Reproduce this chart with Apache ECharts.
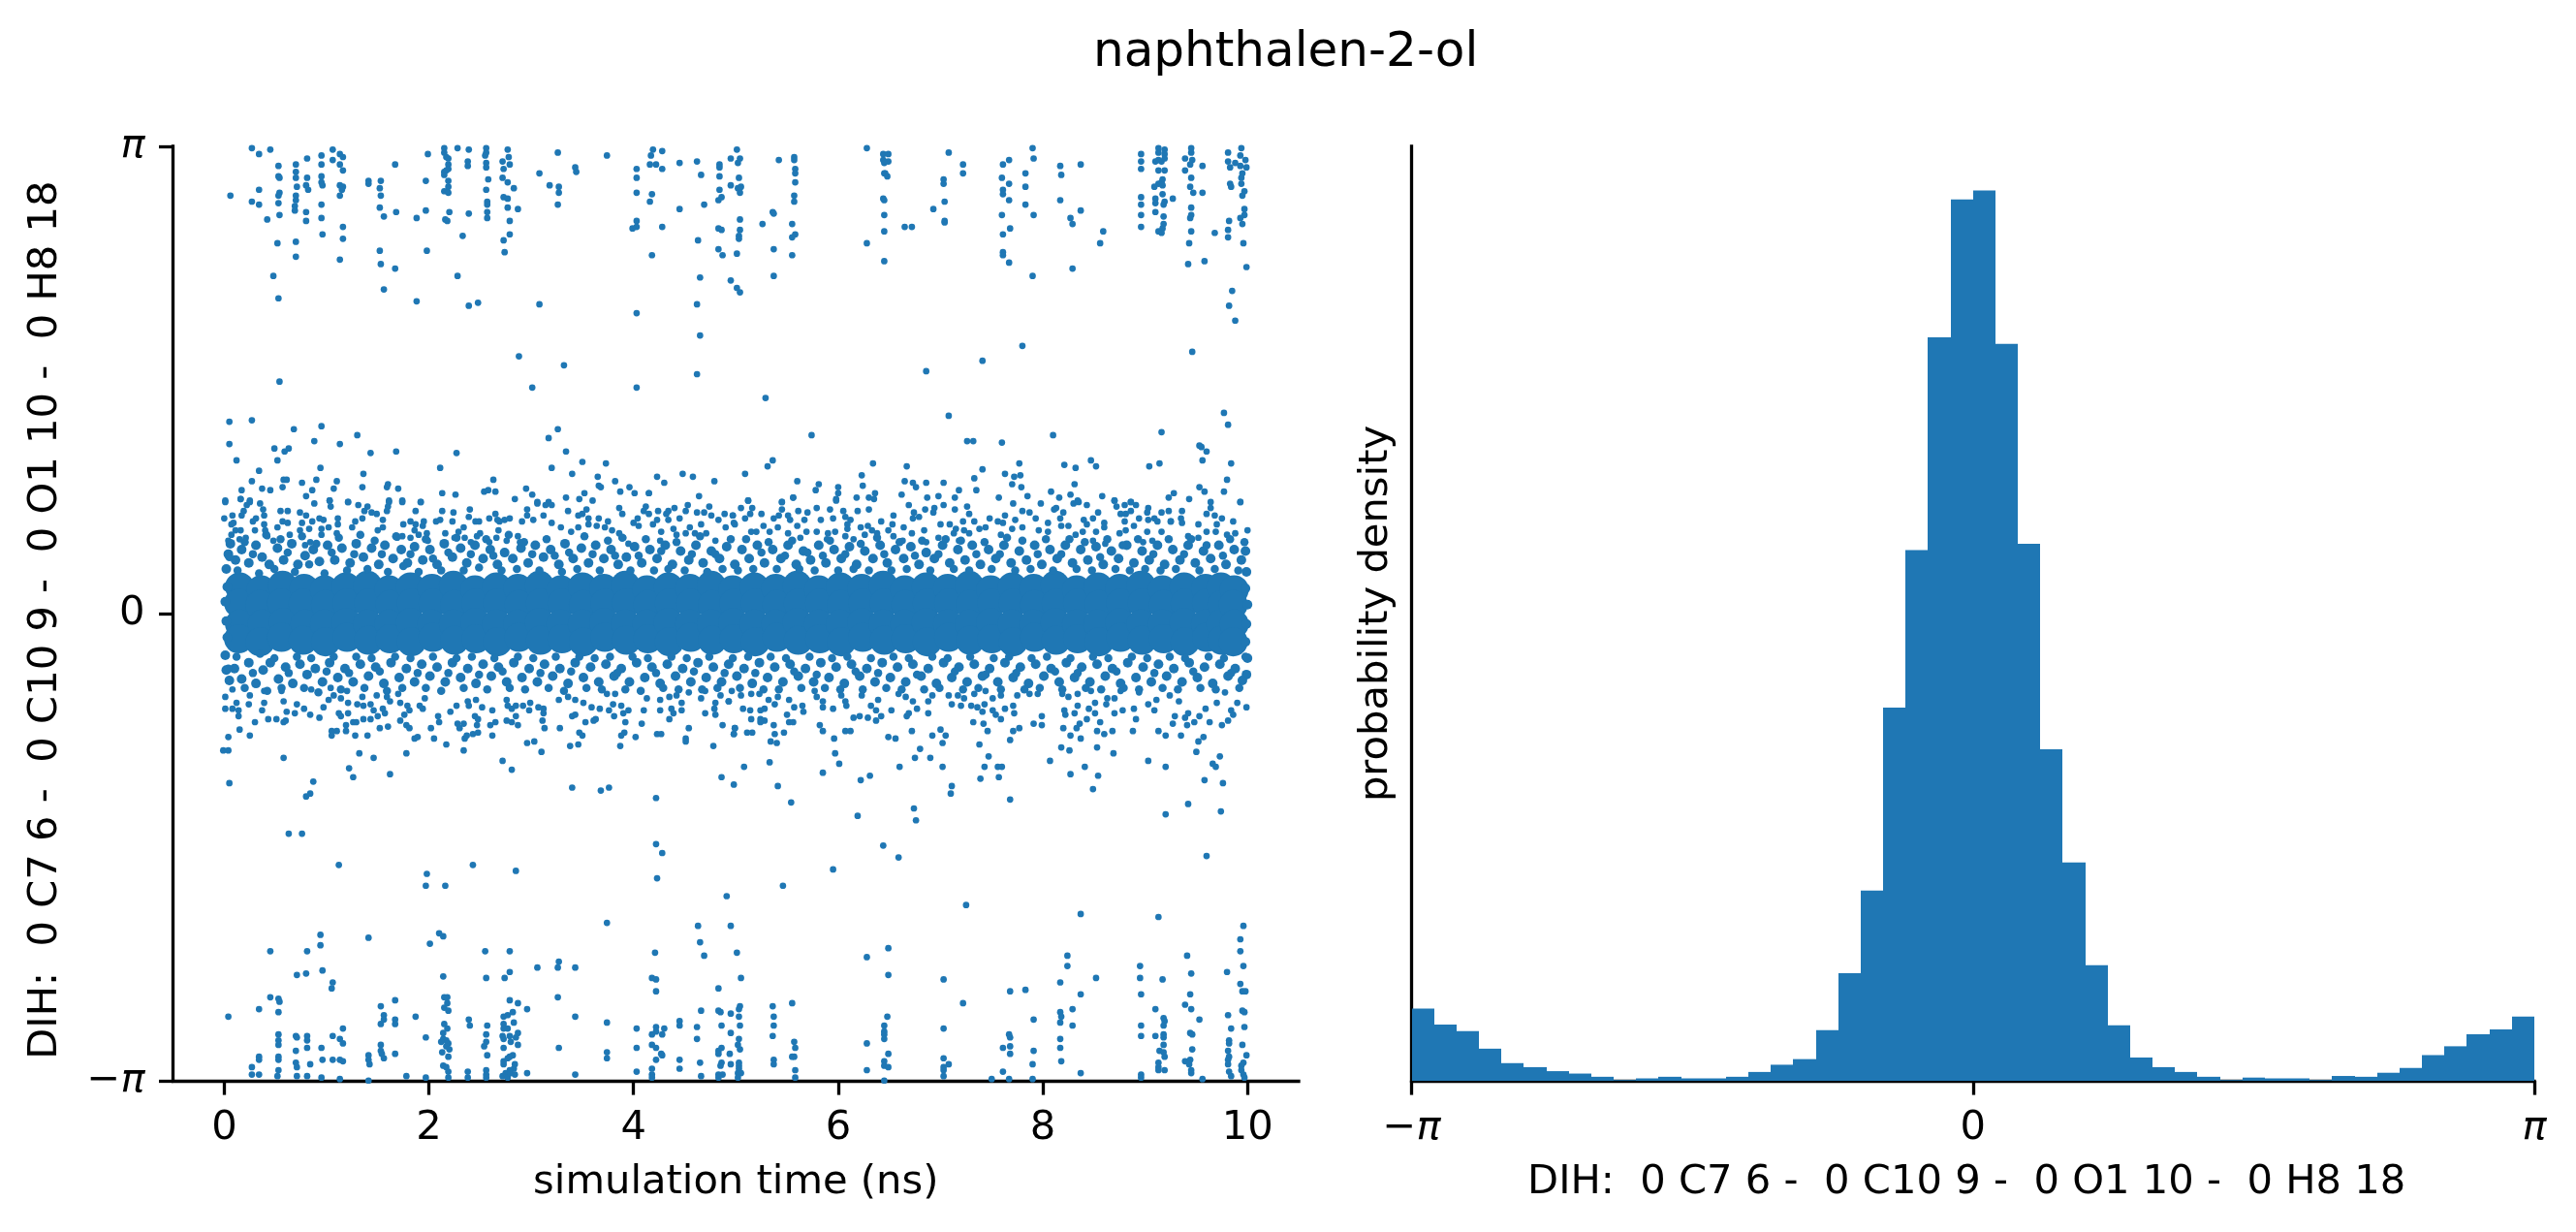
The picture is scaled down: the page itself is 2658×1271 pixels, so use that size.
<!DOCTYPE html>
<html><head><meta charset="utf-8"><style>html,body{margin:0;padding:0;background:#fff}#c{width:2658px;height:1271px}</style>
<script src="https://cdn.jsdelivr.net/npm/echarts@6/dist/echarts.min.js"></script></head>
<body><div id="c"></div><script>
const histDensity=[.090,.070,.062,.040,.022,.017,.012,.009,.005,.001,.003,.005,.003,.003,.005,.011,.020,.027,.063,.134,.237,.465,.661,.926,1.098,1.109,.918,.669,.413,.272,.144,.069,.029,.017,.011,.005,.001,.004,.003,.003,.001,.006,.005,.010,.016,.032,.043,.058,.064,.080];
const timeTicks=[0,2,4,6,8,10];
const piTicks=[-Math.PI,0,Math.PI];
const dihLabel='DIH:  0 C7 6 -  0 C10 9 -  0 O1 10 -  0 H8 18 ';
// [time ns, dihedral rad], sparse upper cluster, t<4.3
const topEarly=[[.06,2.81],[.27,3.13],[.34,3.09],[.45,3.12],[.27,2.77],[.34,2.85],[.34,2.75],[.42,2.65],[.53,3.01],[.53,2.94],[.54,2.93],[.54,2.83],[.53,2.81],[.53,2.76],[.54,2.68],[.52,2.49],[.48,2.27],[.53,2.12],[.54,1.56],[.70,3.02],[.70,2.97],[.70,2.93],[.71,2.87],[.70,2.81],[.70,2.78],[.69,2.74],[.69,2.71],[.70,2.50],[.70,2.40],[.81,3.06],[.81,2.93],[.80,2.88],[.82,2.85],[.80,2.70],[.80,2.64],[.95,3.08],[.95,3.02],[.95,2.94],[.95,2.90],[.96,2.88],[.95,2.75],[.95,2.66],[.96,2.55],[1.06,3.12],[1.06,3.05],[1.13,3.09],[1.16,3.07],[1.13,3.02],[1.16,2.98],[1.13,2.88],[1.16,2.87],[1.15,2.85],[1.13,2.81],[1.16,2.60],[1.16,2.52],[1.13,2.38],[1.41,2.91],[1.41,2.89],[1.53,2.91],[1.52,2.86],[1.53,2.81],[1.52,2.73],[1.56,2.67],[1.52,2.44],[1.53,2.35],[1.56,2.18],[1.67,3.02],[1.68,2.70],[1.67,2.32],[1.88,2.66],[1.88,2.10],[1.99,3.09],[1.97,2.91],[1.97,2.71],[1.98,2.44],[2.15,3.13],[2.15,3.10],[2.17,3.07],[2.19,3.06],[2.19,3.02],[2.19,2.99],[2.15,2.97],[2.17,2.98],[2.15,2.95],[2.19,2.91],[2.19,2.87],[2.15,2.84],[2.19,2.83],[2.20,2.70],[2.16,2.65],[2.18,2.64],[2.28,3.13],[2.28,2.27],[2.33,2.54],[2.39,3.12],[2.38,3.04],[2.38,3.01],[2.39,2.69],[2.39,2.07],[2.48,2.09],[2.56,3.13],[2.56,3.10],[2.55,3.08],[2.56,3.03],[2.56,3.00],[2.58,2.92],[2.56,2.85],[2.57,2.77],[2.57,2.75],[2.57,2.70],[2.57,2.66],[2.72,3.04],[2.73,2.99],[2.72,2.93],[2.73,2.80],[2.73,2.51],[2.74,2.43],[2.77,3.12],[2.78,3.07],[2.79,3.02],[2.77,2.90],[2.77,2.79],[2.77,2.73],[2.79,2.64],[2.79,2.55],[2.83,2.86],[2.87,2.72],[2.88,1.73],[3.01,1.52],[3.32,1.67],[3.08,2.96],[3.08,2.08],[3.18,2.88],[3.27,2.87],[3.27,2.83],[3.26,3.10],[3.26,2.75],[3.43,3.00],[3.44,2.97],[3.74,3.08],[4.03,2.99],[4.03,2.93],[4.03,2.83],[4.03,2.64],[3.99,2.59],[4.03,2.60],[4.03,2.02],[4.03,1.52],[4.17,3.08],[4.19,3.12],[4.16,3.02],[4.22,3.02],[4.28,3.11],[4.28,2.99],[4.18,2.82],[4.16,2.77],[4.28,2.60],[4.18,2.41]];
// sparse upper cluster, t>4.3
const topLate=[[4.45,3.03],[4.45,2.72],[4.62,3.04],[4.66,2.95],[4.69,2.75],[4.63,2.51],[4.65,2.26],[4.62,2.08],[4.65,1.87],[4.62,1.61],[4.84,3.02],[4.84,3.00],[4.84,2.94],[4.95,3.06],[4.95,2.88],[4.84,2.85],[4.86,2.80],[4.83,2.78],[4.83,2.59],[4.86,2.58],[4.83,2.45],[4.87,2.41],[4.95,2.24],[5.01,3.12],[5.04,3.06],[5.02,3.03],[5.03,2.93],[5.02,2.86],[5.05,2.87],[5.04,2.83],[5.04,2.65],[5.04,2.58],[5.03,2.54],[5.03,2.52],[5.01,2.42],[5.01,2.19],[5.04,2.16],[5.42,3.05],[5.26,2.62],[5.36,2.70],[5.37,2.69],[5.37,2.45],[5.37,2.27],[5.29,1.45],[5.57,3.07],[5.57,3.05],[5.58,2.99],[5.58,2.96],[5.58,2.90],[5.57,2.81],[5.57,2.77],[5.55,2.62],[5.58,2.55],[5.55,2.53],[5.55,2.41],[6.28,3.13],[6.28,2.49],[6.44,3.09],[6.49,3.09],[6.44,3.05],[6.49,3.04],[6.45,3.03],[6.45,2.96],[6.46,2.96],[6.48,2.94],[6.44,2.79],[6.45,2.78],[6.45,2.68],[6.45,2.57],[6.45,2.37],[6.65,2.60],[6.72,2.60],[7.08,3.10],[7.03,2.92],[7.03,2.89],[7.04,2.77],[6.93,2.72],[7.04,2.64],[7.04,2.63],[7.22,3.02],[7.22,2.96],[7.08,1.33],[6.86,1.63],[7.41,1.70],[7.80,1.80],[7.61,3.02],[7.67,3.05],[7.60,2.93],[7.67,2.89],[7.61,2.85],[7.61,2.82],[7.67,2.78],[7.60,2.68],[7.68,2.59],[7.61,2.55],[7.61,2.43],[7.61,2.41],[7.67,2.36],[7.90,3.13],[7.91,3.06],[7.83,2.96],[7.83,2.87],[7.83,2.75],[7.91,2.68],[7.90,2.27],[8.17,3.01],[8.18,2.95],[8.17,2.78],[8.27,2.66],[8.29,2.62],[8.29,2.32],[8.37,3.02],[8.37,2.71],[8.59,2.57],[8.56,2.49],[8.96,3.09],[8.96,3.04],[8.96,2.99],[8.96,2.80],[8.96,2.75],[8.96,2.68],[8.96,2.60],[9.13,3.13],[9.19,3.12],[9.13,3.10],[9.19,3.09],[9.10,3.04],[9.13,3.05],[9.16,3.04],[9.19,3.06],[9.13,2.98],[9.19,2.98],[9.17,2.92],[9.16,2.90],[9.13,2.89],[9.09,2.87],[9.17,2.88],[9.17,2.82],[9.10,2.79],[9.10,2.76],[9.19,2.77],[9.18,2.75],[9.10,2.70],[9.18,2.67],[9.18,2.62],[9.17,2.59],[9.13,2.57],[9.16,2.56],[9.16,1.22],[9.27,2.79],[9.45,3.13],[9.45,3.10],[9.39,3.06],[9.46,3.05],[9.44,3.02],[9.39,2.98],[9.56,3.01],[9.45,2.93],[9.44,2.87],[9.47,2.83],[9.56,2.83],[9.45,2.73],[9.45,2.68],[9.44,2.66],[9.45,2.57],[9.43,2.49],[9.58,2.37],[9.42,2.35],[9.46,1.76],[9.68,2.56],[9.81,3.10],[9.94,3.13],[9.93,3.08],[9.98,3.05],[9.81,3.04],[9.83,3.00],[9.88,3.03],[9.93,3.01],[9.99,3.00],[9.95,2.96],[9.94,2.93],[9.94,2.89],[9.83,2.89],[9.84,2.87],[9.97,2.84],[9.95,2.81],[9.97,2.72],[9.97,2.68],[9.93,2.66],[9.82,2.64],[9.95,2.62],[9.81,2.58],[9.81,2.53],[9.96,2.49],[9.99,2.33],[9.85,2.17],[9.82,2.07],[9.88,1.97]];
// between the upper cluster and the band, a about .75 to 1.35
const riseEarly=[[.05,1.29],[.27,1.30],[.05,1.14],[.68,1.24],[.95,1.26],[1.30,1.20],[.88,1.16],[1.13,1.14],[.49,1.11],[.63,1.11],[.59,1.09],[1.43,1.08],[1.68,1.09],[2.27,1.08],[.12,1.03],[.52,1.03],[.94,.98],[2.11,.98],[.34,.96],[1.36,.94],[3.26,1.24],[3.17,1.18],[3.34,1.09],[3.50,1.02],[3.73,1.01],[3.20,.98],[3.40,.94],[3.65,.92],[4.23,.92],[4.30,.88],[3.82,.89],[.27,.89],[.58,.90],[.61,.90],[.76,.88],[.90,.90],[1.10,.89],[.37,.84],[.17,.83],[.45,.83],[.57,.85],[.86,.83],[1.07,.84],[1.35,.85],[1.60,.87],[1.59,.85],[1.70,.84],[2.13,.81],[2.26,.80],[2.54,.82],[2.58,.83],[2.65,.82],[2.63,.90],[2.95,.84],[3.01,.80],[3.34,.78],[3.52,.81],[3.66,.86],[3.68,.85],[3.87,.82],[3.96,.85],[4.01,.81],[4.15,.81],[.01,.76],[.16,.77],[.25,.76],[.80,.79],[1.03,.76],[1.21,.75],[1.61,.76],[1.74,.76],[1.92,.75],[2.84,.77],[3.06,.75],[3.47,.77],[3.60,.76]];
const riseLate=[[5.74,1.20],[7.26,1.16],[7.32,1.16],[7.60,1.15],[8.10,1.20],[9.77,1.35],[9.81,1.27],[9.53,1.13],[9.55,1.12],[9.60,1.09],[8.47,1.03],[9.56,1.03],[5.36,1.03],[5.31,.99],[6.34,1.01],[6.67,.99],[7.77,1.01],[8.21,1.00],[8.32,.98],[8.52,.99],[9.04,.99],[9.14,1.01],[9.84,1.01],[7.41,.97],[4.48,.94],[4.58,.92],[4.79,.89],[5.09,.94],[5.60,.89],[5.81,.87],[5.78,.83],[6.00,.85],[6.23,.93],[6.24,.86],[6.65,.89],[6.73,.88],[6.76,.85],[6.86,.88],[7.03,.88],[7.33,.91],[7.63,.94],[7.72,.92],[7.78,.93],[7.70,.87],[7.79,.85],[8.31,.87],[9.80,.90],[9.53,.85],[9.58,.82],[9.77,.82],[9.28,.81],[7.18,.83],[7.35,.83],[8.08,.82],[6.36,.81],[6.00,.81],[6.62,.80],[4.64,.79],[4.15,.81],[7.85,.79],[8.27,.80],[8.58,.79],[9.23,.78],[9.43,.77],[8.70,.76],[5.56,.78],[5.12,.76],[6.18,.78],[6.30,.78],[5.98,.77],[7.57,.78],[8.16,.78],[6.87,.78],[6.98,.79],[7.14,.78],[5.45,.75],[8.34,.76],[8.86,.75],[9.93,.75]];
// sparse lower cluster
const bottomEarly=[[.63,-1.48],[.76,-1.48],[4.22,-1.55],[4.28,-1.61],[1.12,-1.69],[2.43,-1.69],[2.85,-1.73],[1.98,-1.75],[1.97,-1.83],[2.16,-1.83],[4.23,-1.78],[3.74,-2.08],[.94,-2.16],[.94,-2.23],[1.41,-2.18],[2.10,-2.15],[2.14,-2.17],[2.01,-2.22],[.45,-2.27],[.81,-2.27],[2.55,-2.27],[2.79,-2.27],[4.21,-2.28],[3.27,-2.34],[3.26,-2.38],[3.06,-2.38],[3.43,-2.38],[.96,-2.40],[.80,-2.42],[.71,-2.43],[2.79,-2.41],[2.14,-2.44],[2.74,-2.45],[2.56,-2.45],[4.18,-2.45],[4.22,-2.46],[1.06,-2.48],[1.05,-2.52],[4.22,-2.54],[3.26,-2.58],[.45,-2.58],[.53,-2.59],[.54,-2.61],[1.67,-2.60],[2.15,-2.58],[2.18,-2.58],[2.18,-2.62],[2.79,-2.60],[2.87,-2.62],[1.53,-2.64],[2.15,-2.65],[2.19,-2.67],[2.96,-2.66],[.34,-2.66],[.53,-2.68],[1.56,-2.70],[1.56,-2.73],[1.87,-2.71],[.04,-2.71],[3.43,-2.71],[2.73,-2.71],[2.77,-2.70],[2.82,-2.68],[2.39,-2.73],[2.40,-2.77],[1.67,-2.73],[1.67,-2.76],[1.53,-2.76],[2.83,-2.75],[3.74,-2.75],[2.15,-2.76],[2.57,-2.77],[2.73,-2.76],[2.77,-2.79],[2.73,-2.79],[1.16,-2.79],[2.18,-2.79],[4.03,-2.79],[4.22,-2.78],[4.22,-2.81],[4.30,-2.79],[4.28,-2.83],[4.18,-2.83],[2.14,-2.82],[2.56,-2.83],[2.87,-2.82],[.53,-2.83],[.70,-2.84],[.71,-2.85],[.81,-2.84],[.81,-2.87],[1.06,-2.84],[1.13,-2.86],[1.16,-2.89],[1.97,-2.85],[2.72,-2.84],[2.79,-2.84],[2.85,-2.85],[2.14,-2.86],[2.17,-2.87],[2.56,-2.88],[2.73,-2.86],[2.80,-2.88],[2.87,-2.90],[.53,-2.87],[.53,-2.90],[1.53,-2.90],[2.12,-2.88],[2.19,-2.89],[2.17,-2.91],[2.20,-2.93],[2.54,-2.91],[3.27,-2.92],[2.73,-2.92],[4.18,-2.90],[4.22,-2.92],[4.03,-2.92],[.81,-2.92],[.95,-2.92],[.70,-2.94],[1.53,-2.94],[1.54,-2.96],[1.56,-2.99],[1.67,-2.96],[2.13,-2.95],[3.74,-2.95],[4.27,-2.96],[2.82,-2.97],[2.79,-2.98],[2.19,-2.98],[2.57,-2.97],[4.28,-2.97],[.34,-2.98],[.34,-3.00],[.53,-2.98],[.53,-3.00],[1.41,-2.97],[1.41,-3.00],[1.42,-3.03],[.96,-3.00],[1.06,-3.00],[1.13,-3.00],[1.16,-3.01],[3.74,-2.99],[4.22,-3.00],[.70,-3.02],[.71,-3.05],[.84,-3.03],[2.73,-3.01],[2.73,-3.03],[2.77,-2.99],[2.84,-3.03],[2.14,-3.04],[2.17,-3.05],[.27,-3.05],[.53,-3.07],[.27,-3.10],[.34,-3.10],[2.83,-3.06],[2.79,-3.07],[2.19,-3.08],[2.38,-3.08],[2.56,-3.07],[4.18,-3.06],[4.03,-3.08],[.52,-3.11],[.71,-3.11],[.81,-3.11],[.95,-3.12],[1.13,-3.13],[1.41,-3.14],[1.78,-3.11],[1.97,-3.12],[2.19,-3.12],[2.38,-3.12],[2.56,-3.10],[2.56,-3.12],[2.72,-3.11],[2.75,-3.09],[2.77,-3.12],[2.80,-3.09],[2.84,-3.10],[2.96,-3.09],[3.43,-3.10],[4.18,-3.10],[4.18,-3.12]];
const bottomLate=[[6.44,-1.56],[6.59,-1.64],[9.60,-1.63],[5.95,-1.72],[5.46,-1.83],[4.91,-1.90],[7.25,-1.96],[8.37,-2.02],[9.13,-2.04],[4.63,-2.10],[4.95,-2.10],[9.96,-2.10],[4.65,-2.21],[9.93,-2.19],[6.49,-2.25],[9.93,-2.27],[5.01,-2.28],[4.69,-2.30],[6.28,-2.31],[8.24,-2.30],[9.41,-2.30],[8.24,-2.37],[8.95,-2.37],[9.96,-2.37],[9.80,-2.41],[9.45,-2.42],[6.49,-2.43],[7.03,-2.46],[5.05,-2.45],[8.52,-2.45],[8.95,-2.45],[9.17,-2.46],[8.17,-2.48],[9.93,-2.49],[4.83,-2.52],[7.83,-2.53],[7.68,-2.54],[9.95,-2.54],[9.98,-2.54],[8.96,-2.56],[8.37,-2.56],[9.44,-2.56],[5.55,-2.62],[7.22,-2.62],[5.04,-2.64],[9.39,-2.63],[5.36,-2.64],[5.03,-2.66],[9.10,-2.66],[9.45,-2.66],[4.66,-2.67],[4.83,-2.67],[4.85,-2.68],[8.29,-2.66],[9.95,-2.67],[9.97,-2.68],[8.17,-2.68],[4.95,-2.69],[5.03,-2.71],[5.37,-2.71],[6.48,-2.71],[8.18,-2.71],[9.81,-2.70],[9.18,-2.72],[9.53,-2.73],[4.45,-2.74],[7.91,-2.73],[9.19,-2.74],[8.17,-2.75],[4.45,-2.77],[4.62,-2.78],[4.86,-2.77],[5.04,-2.77],[5.37,-2.77],[6.45,-2.77],[8.29,-2.77],[8.96,-2.77],[9.18,-2.77],[7.03,-2.79],[9.84,-2.79],[9.97,-2.78],[6.45,-2.81],[4.95,-2.82],[9.44,-2.82],[7.67,-2.83],[6.45,-2.83],[9.46,-2.83],[9.18,-2.83],[5.36,-2.84],[8.96,-2.84],[9.10,-2.84],[7.68,-2.85],[9.18,-2.85],[4.62,-2.86],[5.03,-2.86],[6.45,-2.86],[8.17,-2.86],[9.82,-2.87],[9.82,-2.89],[5.57,-2.88],[6.28,-2.89],[5.02,-2.90],[9.95,-2.90],[9.18,-2.90],[5.58,-2.92],[7.68,-2.91],[7.61,-2.92],[8.17,-2.92],[9.46,-2.93],[4.86,-2.92],[4.83,-2.94],[5.04,-2.93],[7.91,-2.94],[9.81,-2.94],[9.14,-2.94],[9.18,-2.95],[4.83,-2.96],[4.94,-2.96],[6.49,-2.96],[7.68,-2.96],[9.19,-2.98],[9.99,-2.97],[9.82,-2.98],[5.57,-2.98],[5.55,-2.98],[7.03,-2.99],[4.45,-3.00],[5.37,-3.00],[6.45,-3.01],[8.18,-3.01],[9.39,-3.01],[9.44,-3.00],[9.81,-3.00],[9.96,-3.02],[4.86,-3.02],[5.03,-3.02],[4.65,-3.02],[9.13,-3.02],[9.81,-3.03],[5.37,-3.03],[4.95,-3.03],[7.08,-3.03],[7.90,-3.03],[9.43,-3.03],[9.94,-3.04],[4.85,-3.04],[5.03,-3.04],[6.45,-3.04],[6.49,-3.05],[7.03,-3.05],[9.13,-3.05],[4.45,-3.06],[5.03,-3.06],[7.03,-3.07],[5.58,-3.07],[6.28,-3.07],[9.13,-3.07],[9.19,-3.07],[9.45,-3.07],[9.94,-3.07],[7.61,-3.08],[5.02,-3.09],[5.05,-3.09],[9.82,-3.08],[8.37,-3.09],[4.83,-3.10],[4.87,-3.10],[9.45,-3.09],[9.84,-3.11],[4.66,-3.11],[9.96,-3.10],[8.96,-3.10],[7.03,-3.11],[8.96,-3.12],[9.97,-3.12],[4.83,-3.12],[5.02,-3.12],[5.58,-3.12],[7.50,-3.13],[7.67,-3.13],[7.90,-3.13],[6.45,-3.14],[9.56,-3.13]];
// upper fringe of the band
const upperFringeEarly=[[.16,.77],[.01,.75],[.25,.75],[.35,.74],[.22,.73],[.19,.69],[.17,.66],[.08,.66],[.00,.64],[.09,.61],[.07,.60],[.16,.56],[.11,.56],[.07,.53],[.30,.56],[.39,.60],[.31,.64],[.28,.62],[.38,.70],[.39,.66],[.40,.56],[.42,.52],[.88,.74],[1.03,.76],[1.04,.72],[1.21,.75],[1.31,.73],[1.40,.72],[1.37,.69],[1.44,.68],[1.49,.67],[1.61,.75],[1.60,.72],[1.59,.69],[1.74,.75],[1.92,.75],[1.87,.69],[3.06,.74],[3.17,.75],[3.14,.73],[3.20,.73],[3.36,.69],[3.54,.70],[3.46,.66],[3.50,.67],[3.56,.64],[3.66,.64],[3.75,.62],[3.56,.60],[3.64,.59],[3.72,.58],[3.86,.71],[3.89,.67],[4.12,.72],[4.10,.69],[4.15,.67],[4.24,.69],[4.53,.73],[4.74,.72],[4.40,.71],[4.34,.69],[4.51,.69],[4.32,.67],[4.45,.64],[4.62,.68],[4.69,.68],[4.76,.66],[4.89,.67],[4.97,.66],[4.83,.63],[4.66,.60],[4.04,.64],[4.00,.61],[4.05,.59],[4.23,.63],[4.19,.60],[4.34,.63],[2.40,.70],[2.13,.69],[2.24,.68],[2.39,.65],[2.65,.67],[2.59,.64],[2.455,.62],[2.49,.62],[2.23,.62],[2.11,.63],[2.07,.62],[1.95,.62],[1.94,.59],[1.82,.62],[1.87,.60],[1.75,.60],[1.55,.63],[1.55,.58],[1.50,.56],[1.35,.64],[1.28,.62],[1.25,.58],[1.11,.64],[1.11,.60],[1.10,.54],[2.96,.70],[2.96,.66],[3.12,.66],[3.02,.63],[2.91,.62],[2.79,.64],[2.74,.63],[2.69,.62],[2.67,.63],[3.20,.61],[3.29,.58],[3.46,.58],[3.39,.55],[.74,.68],[.80,.66],[.76,.61],[.74,.56],[.86,.62],[.83,.57],[.55,.69],[.62,.69],[.57,.62],[.62,.61],[.52,.58],[.93,.64],[.97,.63],[.95,.57],[1.02,.58],[.95,.53],[.64,.53],[.21,.51],[.15,.50],[.04,.49],[.48,.49],[.84,.48],[.79,.46],[1.69,.51],[1.74,.52],[2.16,.54],[2.29,.55],[2.34,.58],[2.25,.51],[2.35,.51],[2.50,.54],[2.47,.52],[2.41,.48],[2.68,.56],[2.59,.48],[2.66,.51],[2.76,.49],[2.87,.52],[2.89,.48],[1.86,.56],[1.98,.54],[1.99,.49],[1.90,.53],[1.82,.51],[3.79,.56],[3.86,.54],[3.90,.51],[3.95,.47],[4.27,.55],[4.39,.57],[4.55,.58],[4.51,.54],[4.42,.53],[4.26,.49],[4.71,.54],[4.60,.54],[4.80,.49],[4.90,.58],[4.98,.61]];
const upperFringeLate=[[5.12,.76],[5.05,.71],[5.16,.71],[5.14,.67],[4.97,.66],[5.09,.64],[4.99,.60],[5.25,.67],[5.37,.64],[5.42,.66],[5.45,.70],[5.45,.75],[5.51,.66],[5.53,.63],[5.56,.78],[5.79,.71],[5.61,.69],[5.70,.68],[5.67,.63],[5.83,.63],[5.92,.70],[5.95,.64],[5.98,.76],[6.05,.69],[6.07,.65],[6.12,.63],[6.09,.60],[6.09,.57],[6.19,.69],[6.30,.70],[6.35,.77],[6.54,.66],[6.42,.62],[6.53,.60],[6.69,.73],[6.74,.68],[6.79,.65],[6.73,.64],[6.85,.70],[6.94,.71],[6.93,.68],[7.03,.73],[7.14,.70],[7.00,.60],[7.09,.60],[7.26,.72],[7.28,.67],[7.22,.62],[7.33,.62],[7.48,.64],[7.56,.62],[7.61,.61],[7.63,.66],[7.71,.74],[7.80,.69],[7.87,.68],[7.98,.74],[7.93,.64],[8.11,.70],[8.13,.71],[8.20,.68],[8.17,.64],[8.30,.74],[8.35,.75],[8.43,.73],[8.40,.63],[8.43,.60],[8.49,.64],[8.54,.68],[8.60,.61],[8.72,.72],[8.70,.76],[8.80,.73],[8.86,.75],[8.91,.73],[8.76,.67],[8.81,.67],[8.86,.69],[8.80,.62],[8.94,.64],[9.02,.68],[9.03,.71],[9.09,.64],[9.16,.68],[9.23,.69],[9.03,.63],[9.12,.62],[9.25,.62],[9.36,.69],[9.35,.64],[9.36,.61],[9.60,.67],[9.64,.75],[9.64,.71],[9.68,.66],[9.75,.64],[9.70,.60],[9.86,.62],[9.93,.75],[9.52,.60],[10.0,.56],[9.88,.54],[9.80,.53],[5.15,.55],[5.20,.55],[5.27,.59],[5.33,.55],[5.41,.58],[5.51,.54],[5.60,.59],[5.63,.51],[5.69,.55],[5.79,.55],[5.90,.54],[5.97,.55],[6.07,.52],[5.89,.50],[6.15,.50],[6.22,.58],[6.29,.59],[6.33,.56],[6.38,.54],[6.26,.53],[6.49,.56],[6.54,.52],[6.64,.58],[6.72,.54],[6.84,.56],[6.86,.48],[6.63,.49],[6.98,.51],[7.15,.57],[7.23,.56],[7.13,.54],[7.28,.54],[7.38,.57],[7.44,.58],[7.18,.49],[7.59,.53],[7.73,.63],[7.80,.58],[7.70,.57],[7.96,.56],[8.05,.61],[8.05,.55],[8.25,.59],[8.18,.59],[8.32,.53],[8.39,.55],[8.60,.58],[8.52,.55],[8.75,.54],[8.81,.56],[8.89,.59],[9.02,.55],[9.16,.55],[9.25,.62],[9.42,.52],[9.60,.55],[9.52,.51],[9.69,.55],[8.98,.48],[9.07,.49],[8.61,.47],[8.49,.49]];
// lower fringe of the band
const lowerFringeEarly=[[.05,-1.14],[.80,-1.23],[.84,-1.21],[.87,-1.13],[.58,-.97],[-.01,-.92],[.04,-.92],[.04,-.83],[.15,-.78],[.25,-.82],[.30,-.73],[.01,-.64],[.01,-.56],[.08,-.51],[.12,-.60],[.08,-.64],[.14,-.65],[.14,-.69],[.24,-.61],[.25,-.55],[.37,-.65],[.39,-.60],[.43,-.71],[.51,-.71],[.58,-.73],[.60,-.72],[.61,-.66],[.69,-.67],[.71,-.61],[.78,-.64],[.84,-.68],[.93,-.70],[.97,-.63],[.58,-.59],[.39,-.52],[.56,-.52],[.85,-.51],[1.04,-.50],[1.02,-.58],[1.07,-.55],[1.14,-.57],[1.20,-.52],[1.21,-.60],[1.21,-.67],[1.12,-.67],[1.14,-.69],[1.05,-.79],[1.05,-.82],[1.10,-.79],[1.19,-.75],[1.19,-.79],[1.26,-.73],[1.29,-.73],[1.28,-.82],[1.40,-.82],[1.32,-.94],[1.46,-.97],[1.22,-1.04],[1.26,-1.10],[1.62,-1.08],[1.78,-.94],[1.36,-.71],[1.43,-.71],[1.52,-.77],[1.60,-.76],[1.50,-.69],[1.57,-.67],[1.55,-.64],[1.46,-.65],[1.30,-.61],[1.36,-.62],[1.43,-.61],[1.35,-.56],[1.49,-.55],[1.59,-.56],[1.62,-.59],[1.72,-.60],[1.70,-.54],[1.72,-.72],[1.78,-.75],[1.81,-.77],[1.76,-.68],[1.79,-.62],[1.81,-.65],[1.86,-.84],[1.89,-.83],[2.02,-.77],[2.05,-.84],[2.17,-.88],[2.34,-.92],[2.09,-.69],[2.10,-.73],[1.94,-.64],[1.91,-.62],[1.96,-.57],[2.21,-.66],[2.27,-.62],[2.39,-.62],[2.46,-.58],[2.52,-.63],[2.38,-.59],[2.28,-.74],[2.34,-.74],[2.30,-.77],[2.35,-.84],[2.37,-.82],[2.43,-.81],[2.48,-.80],[2.45,-.69],[2.48,-.71],[2.47,-.75],[2.62,-.65],[2.60,-.75],[2.65,-.73],[2.62,-.82],[2.72,-.99],[2.81,-1.05],[2.76,-.72],[2.81,-.73],[2.87,-.75],[2.85,-.69],[2.81,-.64],[2.85,-.62],[2.76,-.58],[2.77,-.62],[2.92,-.62],[2.99,-.60],[2.98,-.65],[3.07,-.63],[3.12,-.64],[3.12,-.67],[3.11,-.72],[3.13,-.77],[2.96,-.87],[3.03,-.86],[3.10,-.93],[3.28,-.77],[3.38,-.89],[3.46,-.88],[3.40,-1.17],[3.68,-1.19],[3.76,-1.17],[4.22,-1.24],[4.86,-1.10],[4.98,-1.15],[4.78,-.89],[3.87,-.89],[4.02,-.83],[3.88,-.82],[3.91,-.80],[4.23,-.81],[4.27,-.81],[4.51,-.84],[4.51,-.86],[4.54,-.77],[4.87,-.75],[4.98,-.81],[4.99,-.77],[3.47,-.80],[3.50,-.82],[3.40,-.69],[3.43,-.68],[3.53,-.73],[3.61,-.72],[3.63,-.71],[3.59,-.63],[3.67,-.64],[3.76,-.65],[3.81,-.69],[3.80,-.61],[3.88,-.62],[3.92,-.73],[3.90,-.67],[3.95,-.65],[4.08,-.74],[4.10,-.65],[4.26,-.65],[4.35,-.71],[4.39,-.67],[4.37,-.64],[4.47,-.65],[4.47,-.60],[4.66,-.57],[4.70,-.67],[4.80,-.68],[4.79,-.64],[4.80,-.60],[4.93,-.59],[4.85,-.55],[3.27,-.58],[3.36,-.56],[3.43,-.58],[3.51,-.60],[3.74,-.54],[3.82,-.54],[4.13,-.57],[4.26,-.58],[4.35,-.56],[4.42,-.55],[4.54,-.53],[4.70,-.52],[4.96,-.52]];
const lowerFringeLate=[[5.08,-1.03],[5.33,-1.00],[5.41,-1.16],[5.54,-1.27],[5.85,-1.07],[5.97,-.94],[6.01,-1.01],[6.19,-1.36],[6.22,-1.12],[6.31,-1.09],[6.60,-1.03],[6.74,-1.31],[6.76,-1.39],[6.75,-.97],[6.80,-.91],[6.90,-.97],[7.02,-1.03],[7.02,-.87],[7.05,-.82],[6.92,-.82],[7.00,-.78],[6.72,-.79],[6.49,-.83],[6.56,-.84],[7.11,-1.16],[7.10,-1.21],[7.39,-1.11],[7.43,-1.03],[7.47,-.96],[7.38,-.88],[7.56,-1.03],[7.60,-1.03],[7.57,-1.10],[7.68,-1.25],[7.68,-.85],[8.07,-.99],[8.18,-.90],[8.26,-.92],[8.27,-1.08],[8.41,-1.03],[8.54,-1.09],[8.49,-1.18],[8.53,-.90],[8.69,-.94],[8.37,-.84],[8.27,-.82],[8.20,-.77],[8.53,-.79],[8.60,-.81],[8.68,-.79],[8.88,-.79],[9.03,-.99],[9.20,-1.03],[9.20,-1.35],[9.42,-1.28],[9.74,-1.33],[9.58,-1.12],[9.76,-1.14],[9.66,-1.01],[9.69,-1.03],[9.73,-.96],[9.50,-.93],[9.52,-.86],[9.57,-.83],[9.35,-.82],[9.20,-.82],[9.13,-.79],[9.41,-.75],[9.27,-.74],[9.48,-.73],[9.53,-.69],[9.63,-.73],[9.75,-.75],[9.81,-.72],[9.86,-.68],[9.99,-.63],[9.84,-.65],[9.70,-.60],[9.90,-.60],[9.78,-.53],[7.99,-.69],[7.91,-.74],[7.99,-.75],[7.77,-.77],[7.71,-.79],[7.46,-.79],[7.42,-.74],[7.32,-.73],[7.72,-.67],[7.71,-.62],[7.63,-.64],[7.59,-.71],[7.54,-.68],[7.51,-.65],[7.41,-.66],[7.36,-.63],[7.30,-.62],[7.43,-.61],[7.11,-.61],[7.20,-.62],[7.23,-.57],[6.88,-.67],[6.52,-.65],[6.67,-.69],[6.69,-.67],[6.77,-.64],[6.42,-.69],[6.37,-.72],[6.29,-.70],[6.21,-.69],[6.15,-.70],[6.37,-.65],[6.32,-.62],[6.07,-.79],[6.12,-.79],[5.96,-.84],[5.85,-.79],[5.82,-.75],[5.95,-.64],[5.85,-.63],[5.85,-.59],[5.66,-.66],[5.65,-.62],[5.57,-.63],[5.52,-.58],[5.41,-.56],[5.50,-.68],[5.52,-.73],[5.56,-.73],[5.47,-.80],[5.40,-.87],[5.34,-.86],[5.38,-.81],[5.37,-.75],[5.28,-.72],[5.24,-.71],[5.24,-.73],[5.24,-.65],[5.28,-.64],[5.15,-.71],[5.14,-.65],[5.07,-.64],[5.11,-.80],[5.16,-.80],[4.99,-.77],[4.98,-.81],[4.93,-.59],[5.38,-.61],[5.32,-.58],[5.15,-.54],[5.05,-.55],[5.23,-.54],[8.21,-.65],[8.22,-.68],[8.31,-.67],[8.34,-.62],[8.25,-.56],[8.43,-.71],[8.36,-.74],[8.33,-.77],[8.45,-.64],[8.51,-.60],[8.51,-.67],[8.56,-.73],[8.62,-.61],[8.70,-.67],[8.78,-.65],[8.89,-.64],[8.91,-.71],[9.03,-.61],[9.11,-.58],[9.09,-.65],[9.29,-.69],[9.39,-.70],[9.42,-.67],[9.59,-.64],[9.33,-.59],[9.24,-.55],[8.94,-.53],[5.77,-.52],[5.79,-.56],[6.03,-.55],[6.08,-.62],[6.07,-.59],[6.23,-.55],[6.39,-.58],[6.59,-.54],[6.66,-.56],[6.73,-.59],[6.88,-.59],[6.92,-.55],[7.08,-.55],[7.17,-.55],[7.33,-.54],[7.44,-.52],[7.51,-.57],[7.59,-.55],[7.75,-.55],[7.87,-.54],[7.95,-.54],[8.19,-.54],[8.34,-.54],[8.47,-.52],[8.63,-.57],[8.70,-.57],[8.76,-.52]];
// NOTE: the band's shoulder and core hold thousands of overlapping dots that cannot be read one by one.
// The three lists below are hand-typed coverage estimates, partly drawn with larger markers, not individual samples.
const shoulderEstimate=[[.02,.30],[.03,.18],[.01,.08],[.02,-.05],[.03,-.16],[.01,-.28],[.02,-.38],[.04,.40],[.06,.47],[.05,-.45],[.11,.36],[.17,.43],[.24,.34],[.31,.46],[.37,.38],[.44,.33],[.52,.44],[.58,.36],[.66,.47],[.72,.33],[.79,.39],[.87,.43],[.93,.35],[1.01,.46],[1.08,.36],[1.15,.44],[1.23,.34],[1.29,.47],[1.36,.38],[1.44,.44],[1.51,.33],[1.57,.46],[1.65,.37],[1.73,.43],[1.79,.34],[1.86,.45],[1.94,.36],[2.01,.43],[2.08,.33],[2.15,.47],[2.23,.38],[2.31,.44],[2.37,.34],[2.45,.46],[2.53,.37],[2.60,.43],[2.67,.33],[2.74,.41],[2.82,.37],[2.90,.44],[2.97,.34],[3.04,.46],[3.12,.38],[3.19,.43],[3.27,.33],[3.33,.47],[3.41,.37],[3.49,.44],[3.56,.34],[3.63,.46],[3.71,.37],[3.78,.43],[3.85,.33],[3.93,.38],[4.01,.45],[4.08,.34],[4.16,.43],[4.23,.37],[4.31,.46],[4.38,.33],[4.46,.42],[4.54,.36],[4.61,.46],[4.68,.34],[4.76,.42],[4.84,.37],[4.91,.45],[4.99,.33],[5.06,.43],[5.13,.37],[5.21,.46],[5.28,.34],[5.36,.43],[5.44,.37],[5.51,.46],[5.59,.33],[5.66,.42],[5.73,.36],[5.81,.46],[5.88,.34],[5.96,.43],[6.03,.37],[6.11,.45],[6.18,.33],[6.26,.42],[6.34,.37],[6.41,.46],[6.48,.34],[6.56,.43],[6.64,.37],[6.71,.45],[6.79,.33],[6.86,.41],[6.94,.37],[7.02,.46],[7.09,.34],[7.17,.43],[7.24,.36],[7.31,.46],[7.39,.33],[7.47,.43],[7.54,.37],[7.62,.46],[7.69,.34],[7.77,.42],[7.84,.36],[7.92,.46],[7.99,.33],[8.07,.43],[8.14,.37],[8.22,.46],[8.29,.34],[8.37,.43],[8.44,.36],[8.52,.45],[8.59,.33],[8.67,.42],[8.74,.37],[8.82,.46],[8.89,.34],[8.97,.42],[9.04,.36],[9.12,.46],[9.19,.33],[9.27,.43],[9.34,.36],[9.42,.46],[9.49,.34],[9.57,.42],[9.64,.37],[9.72,.46],[9.79,.33],[9.87,.43],[9.94,.36],[9.99,.28],[9.98,.17],[10,.06],[9.99,-.07],[9.98,-.19],[10,-.3],[9.98,.42],[9.99,-.41],[.10,-.37],[.17,-.44],[.24,-.33],[.31,-.47],[.38,-.38],[.45,-.33],[.53,-.44],[.60,-.36],[.67,-.47],[.74,-.34],[.81,-.41],[.89,-.37],[.96,-.46],[1.03,-.33],[1.11,-.43],[1.18,-.37],[1.26,-.46],[1.33,-.34],[1.41,-.42],[1.48,-.36],[1.56,-.47],[1.63,-.33],[1.71,-.43],[1.78,-.37],[1.86,-.46],[1.93,-.34],[2.01,-.42],[2.08,-.36],[2.16,-.46],[2.23,-.33],[2.31,-.43],[2.38,-.37],[2.46,-.47],[2.53,-.34],[2.61,-.42],[2.68,-.36],[2.76,-.46],[2.83,-.33],[2.91,-.43],[2.98,-.37],[3.06,-.46],[3.13,-.34],[3.21,-.42],[3.28,-.37],[3.36,-.47],[3.43,-.33],[3.51,-.43],[3.58,-.36],[3.66,-.46],[3.73,-.34],[3.81,-.42],[3.88,-.37],[3.96,-.46],[4.03,-.33],[4.11,-.43],[4.18,-.36],[4.26,-.47],[4.33,-.34],[4.41,-.42],[4.48,-.37],[4.56,-.46],[4.63,-.33],[4.71,-.43],[4.78,-.36],[4.86,-.46],[4.93,-.34],[5.01,-.42],[5.08,-.37],[5.16,-.47],[5.23,-.33],[5.31,-.43],[5.38,-.36],[5.46,-.46],[5.53,-.34],[5.61,-.42],[5.68,-.37],[5.76,-.46],[5.83,-.33],[5.91,-.43],[5.98,-.36],[6.06,-.47],[6.13,-.34],[6.21,-.42],[6.28,-.37],[6.36,-.46],[6.43,-.33],[6.51,-.43],[6.58,-.36],[6.66,-.46],[6.73,-.34],[6.81,-.42],[6.88,-.37],[6.96,-.47],[7.03,-.33],[7.11,-.43],[7.18,-.36],[7.26,-.46],[7.33,-.34],[7.41,-.42],[7.48,-.37],[7.56,-.46],[7.63,-.33],[7.71,-.43],[7.78,-.36],[7.86,-.47],[7.93,-.34],[8.01,-.42],[8.08,-.37],[8.16,-.46],[8.23,-.33],[8.31,-.43],[8.38,-.36],[8.46,-.46],[8.53,-.34],[8.61,-.42],[8.68,-.37],[8.76,-.47],[8.83,-.33],[8.91,-.43],[8.98,-.36],[9.06,-.46],[9.13,-.34],[9.21,-.42],[9.28,-.37],[9.36,-.46],[9.43,-.33],[9.51,-.43],[9.58,-.36],[9.66,-.47],[9.73,-.34],[9.81,-.42],[9.88,-.37],[9.95,-.45]];
const shoulderFillEstimate=[[.05,.38],[.13,.29],[.20,.48],[.28,.40],[.34,.27],[.41,.53],[.49,.30],[.55,.50],[.62,.41],[.69,.28],[.76,.52],[.83,.33],[.90,.47],[.98,.27],[1.05,.41],[1.12,.51],[1.20,.29],[1.27,.40],[1.33,.53],[1.40,.30],[1.47,.49],[1.54,.40],[1.60,.28],[1.68,.52],[1.75,.32],[1.82,.40],[1.90,.28],[1.97,.50],[2.04,.37],[2.12,.29],[2.19,.41],[2.27,.51],[2.34,.29],[2.41,.40],[2.49,.31],[2.56,.50],[2.63,.39],[2.71,.29],[2.78,.53],[2.86,.30],[2.93,.48],[3.01,.40],[3.08,.29],[3.15,.50],[3.23,.39],[3.30,.28],[3.37,.41],[3.45,.30],[3.52,.52],[3.60,.40],[3.67,.29],[3.75,.49],[3.82,.39],[3.89,.51],[3.97,.29],[4.05,.39],[4.12,.50],[4.20,.29],[4.27,.42],[4.34,.30],[4.42,.48],[4.50,.29],[4.57,.40],[4.65,.52],[4.72,.28],[4.80,.40],[4.87,.30],[4.95,.50],[5.02,.29],[5.10,.50],[5.17,.30],[5.25,.41],[5.32,.48],[5.40,.30],[5.48,.39],[5.55,.49],[5.62,.30],[5.70,.41],[5.77,.29],[5.85,.39],[5.92,.49],[6.00,.29],[6.07,.40],[6.15,.30],[6.22,.47],[6.30,.29],[6.38,.51],[6.45,.40],[6.52,.29],[6.60,.48],[6.67,.30],[6.75,.39],[6.82,.49],[6.90,.29],[6.98,.40],[7.05,.50],[7.13,.30],[7.20,.49],[7.28,.29],[7.35,.40],[7.43,.48],[7.50,.30],[7.58,.40],[7.65,.51],[7.73,.29],[7.80,.49],[7.88,.30],[7.95,.40],[8.03,.50],[8.10,.29],[8.18,.40],[8.26,.50],[8.33,.30],[8.41,.48],[8.48,.29],[8.56,.38],[8.63,.50],[8.71,.30],[8.78,.46],[8.85,.29],[8.93,.50],[9.00,.30],[9.08,.40],[9.15,.29],[9.23,.50],[9.30,.30],[9.38,.40],[9.45,.50],[9.53,.29],[9.60,.46],[9.68,.30],[9.76,.39],[9.83,.50],[9.91,.29],[9.97,.48],[.04,-.37],[.12,-.29],[.20,-.50],[.28,-.40],[.35,-.27],[.42,-.52],[.49,-.30],[.56,-.50],[.63,-.40],[.71,-.29],[.78,-.50],[.85,-.30],[.92,-.53],[1.00,-.39],[1.07,-.29],[1.14,-.51],[1.22,-.40],[1.29,-.29],[1.37,-.50],[1.44,-.30],[1.52,-.39],[1.59,-.52],[1.67,-.29],[1.74,-.50],[1.82,-.30],[1.89,-.40],[1.97,-.50],[2.04,-.29],[2.12,-.52],[2.19,-.40],[2.27,-.30],[2.34,-.50],[2.42,-.29],[2.49,-.41],[2.57,-.51],[2.64,-.30],[2.72,-.39],[2.79,-.50],[2.87,-.29],[2.94,-.51],[3.02,-.30],[3.09,-.40],[3.17,-.50],[3.24,-.29],[3.32,-.52],[3.39,-.39],[3.47,-.29],[3.54,-.50],[3.62,-.30],[3.69,-.51],[3.77,-.29],[3.84,-.40],[3.92,-.51],[3.99,-.29],[4.07,-.52],[4.14,-.30],[4.22,-.40],[4.29,-.50],[4.37,-.29],[4.44,-.51],[4.52,-.30],[4.59,-.39],[4.67,-.51],[4.74,-.29],[4.82,-.50],[4.89,-.40],[4.97,-.30],[5.04,-.50],[5.12,-.29],[5.19,-.40],[5.27,-.51],[5.34,-.29],[5.42,-.51],[5.49,-.30],[5.57,-.39],[5.64,-.50],[5.72,-.29],[5.79,-.41],[5.87,-.50],[5.94,-.30],[6.02,-.51],[6.09,-.29],[6.17,-.39],[6.24,-.51],[6.32,-.30],[6.39,-.40],[6.47,-.50],[6.54,-.29],[6.62,-.51],[6.69,-.30],[6.77,-.41],[6.84,-.51],[6.92,-.29],[6.99,-.50],[7.07,-.30],[7.14,-.39],[7.22,-.51],[7.29,-.29],[7.37,-.50],[7.44,-.41],[7.52,-.30],[7.59,-.51],[7.67,-.29],[7.74,-.40],[7.82,-.51],[7.89,-.30],[7.97,-.50],[8.04,-.29],[8.12,-.39],[8.19,-.51],[8.27,-.30],[8.34,-.40],[8.42,-.50],[8.49,-.29],[8.57,-.51],[8.64,-.30],[8.72,-.39],[8.79,-.50],[8.87,-.29],[8.94,-.51],[9.02,-.30],[9.09,-.40],[9.17,-.50],[9.24,-.29],[9.32,-.51],[9.39,-.30],[9.47,-.39],[9.54,-.50],[9.62,-.29],[9.69,-.51],[9.77,-.30],[9.84,-.40],[9.92,-.50],[9.98,-.29]];
const coreEstimate=[[.15,.18],[.14,.07],[.15,-.07],[.14,-.17],[.36,.16],[.35,.06],[.37,-.07],[.35,-.19],[.57,.19],[.56,.07],[.58,-.06],[.56,-.16],[.78,.17],[.77,.07],[.79,-.07],[.77,-.18],[.98,.16],[.99,.06],[.98,-.07],[.99,-.19],[1.19,.18],[1.20,.07],[1.19,-.06],[1.20,-.16],[1.40,.19],[1.41,.07],[1.40,-.07],[1.41,-.18],[1.61,.16],[1.62,.06],[1.61,-.07],[1.62,-.17],[1.82,.18],[1.83,.07],[1.82,-.06],[1.83,-.19],[2.03,.17],[2.04,.07],[2.03,-.07],[2.04,-.16],[2.24,.19],[2.25,.06],[2.24,-.07],[2.25,-.18],[2.45,.16],[2.46,.07],[2.45,-.06],[2.46,-.17],[2.66,.18],[2.67,.07],[2.66,-.07],[2.67,-.19],[2.87,.17],[2.88,.06],[2.87,-.07],[2.88,-.16],[3.08,.19],[3.09,.07],[3.08,-.06],[3.09,-.18],[3.29,.16],[3.30,.07],[3.29,-.07],[3.30,-.17],[3.50,.18],[3.51,.06],[3.50,-.07],[3.51,-.19],[3.71,.17],[3.72,.07],[3.71,-.06],[3.72,-.16],[3.92,.19],[3.93,.07],[3.92,-.07],[3.93,-.18],[4.13,.16],[4.14,.06],[4.13,-.07],[4.14,-.17],[4.34,.18],[4.35,.07],[4.34,-.06],[4.35,-.19],[4.55,.17],[4.56,.07],[4.55,-.07],[4.56,-.16],[4.76,.19],[4.77,.06],[4.76,-.07],[4.77,-.18],[4.97,.16],[4.98,.07],[4.97,-.06],[4.98,-.17],[5.18,.18],[5.19,.07],[5.18,-.07],[5.19,-.19],[5.39,.17],[5.40,.06],[5.39,-.07],[5.40,-.16],[5.60,.19],[5.61,.07],[5.60,-.06],[5.61,-.18],[5.81,.16],[5.82,.07],[5.81,-.07],[5.82,-.17],[6.02,.18],[6.03,.06],[6.02,-.07],[6.03,-.19],[6.23,.17],[6.24,.07],[6.23,-.06],[6.24,-.16],[6.44,.19],[6.45,.07],[6.44,-.07],[6.45,-.18],[6.65,.16],[6.66,.06],[6.65,-.07],[6.66,-.17],[6.86,.18],[6.87,.07],[6.86,-.06],[6.87,-.19],[7.07,.17],[7.08,.07],[7.07,-.07],[7.08,-.16],[7.28,.19],[7.29,.06],[7.28,-.07],[7.29,-.18],[7.49,.16],[7.50,.07],[7.49,-.06],[7.50,-.17],[7.70,.18],[7.71,.07],[7.70,-.07],[7.71,-.19],[7.91,.17],[7.92,.06],[7.91,-.07],[7.92,-.16],[8.12,.19],[8.13,.07],[8.12,-.06],[8.13,-.18],[8.33,.16],[8.34,.07],[8.33,-.07],[8.34,-.17],[8.54,.18],[8.55,.06],[8.54,-.07],[8.55,-.19],[8.75,.17],[8.76,.07],[8.75,-.06],[8.76,-.16],[8.96,.19],[8.97,.07],[8.96,-.07],[8.97,-.18],[9.17,.16],[9.18,.06],[9.17,-.07],[9.18,-.17],[9.38,.18],[9.39,.07],[9.38,-.06],[9.39,-.19],[9.59,.17],[9.60,.07],[9.59,-.07],[9.60,-.16],[9.74,.18],[9.75,.06],[9.74,-.07],[9.75,-.18],[9.87,.16],[9.86,.06],[9.87,-.07],[9.86,-.19]];
const FONT='DejaVu Sans',BLUE='#1f77b4',LW=3.3,TS=41.67,DOT=6.7;
const rich={i:{fontStyle:'italic',fontFamily:FONT,fontSize:TS,color:'#000'},n:{fontFamily:FONT,fontSize:TS,color:'#000'}};
const piFmt=v=>v<-1?'{n|−}{i|π}':v>1?'{i|π}':'{n|0}';
const line={show:true,onZero:false,lineStyle:{color:'#000',width:LW,cap:'square'}};
const tick=vals=>({show:true,length:14.6,lineStyle:{color:'#000',width:LW},customValues:vals});
const lab=(vals,fmt,m)=>({show:true,fontFamily:FONT,fontSize:TS,color:'#000',margin:m,customValues:vals,formatter:fmt,rich,hideOverlap:false,showMinLabel:true,showMaxLabel:true});
const nameStyle={fontFamily:FONT,fontSize:TS,color:'#000'};
const dots=(data,size)=>({type:'scatter',xAxisIndex:0,yAxisIndex:0,symbolSize:size,silent:true,itemStyle:{color:BLUE,opacity:1},data});
const chart=echarts.init(document.getElementById('c'),null,{renderer:'canvas',devicePixelRatio:1});
chart.setOption({animation:false,backgroundColor:'#fff',
title:{text:'naphthalen-2-ol',left:1123,top:25,textStyle:{fontFamily:FONT,fontSize:50,fontWeight:'normal',color:'#000'}},
grid:[{left:178.6,top:151,width:1161.4,height:964,containLabel:false},{left:1456.6,top:151,width:1158.4,height:964,containLabel:false}],
xAxis:[{type:'value',gridIndex:0,min:-.5,max:10.5,splitLine:{show:false},axisLine:line,axisTick:tick(timeTicks),axisLabel:lab(timeTicks,v=>String(v),28),name:'simulation time (ns)',nameLocation:'middle',nameGap:84,nameTextStyle:nameStyle},
{type:'value',gridIndex:1,min:-Math.PI,max:Math.PI,splitLine:{show:false},axisLine:line,axisTick:tick(piTicks),axisLabel:lab(piTicks,piFmt,28),name:dihLabel,nameLocation:'middle',nameGap:84,nameTextStyle:nameStyle}],
yAxis:[{type:'value',gridIndex:0,min:-Math.PI,max:Math.PI,splitLine:{show:false},axisLine:line,axisTick:tick(piTicks),axisLabel:lab(piTicks,piFmt,29),name:dihLabel,nameLocation:'middle',nameGap:110,nameTextStyle:nameStyle},
{type:'value',gridIndex:1,min:0,max:1.164,splitLine:{show:false},axisLine:line,axisTick:{show:false},axisLabel:{show:false},name:'probability density',nameLocation:'middle',nameGap:15,nameTextStyle:nameStyle}],
series:[{type:'custom',xAxisIndex:1,yAxisIndex:1,silent:true,
data:histDensity.map((d,i)=>[-Math.PI+i*2*Math.PI/histDensity.length,-Math.PI+(i+1)*2*Math.PI/histDensity.length,d]),encode:{x:[0,1],y:2},
renderItem:(p,api)=>{const a=api.coord([api.value(0),api.value(2)]),b=api.coord([api.value(1),0]);const x0=Math.round(a[0]),x1=Math.round(b[0]);return{type:'rect',shape:{x:x0,y:a[1],width:x1-x0,height:b[1]-a[1]},style:{fill:BLUE}}}},
dots(coreEstimate,30),dots(shoulderEstimate,10),dots(shoulderFillEstimate,8.5),dots(topEarly,DOT),dots(topLate,DOT),dots(riseEarly,DOT),dots(riseLate,DOT),dots(bottomEarly,DOT),dots(bottomLate,DOT),dots(upperFringeEarly,DOT),dots(upperFringeLate,DOT),dots(lowerFringeEarly,DOT),dots(lowerFringeLate,DOT)]});
</script></body></html>
